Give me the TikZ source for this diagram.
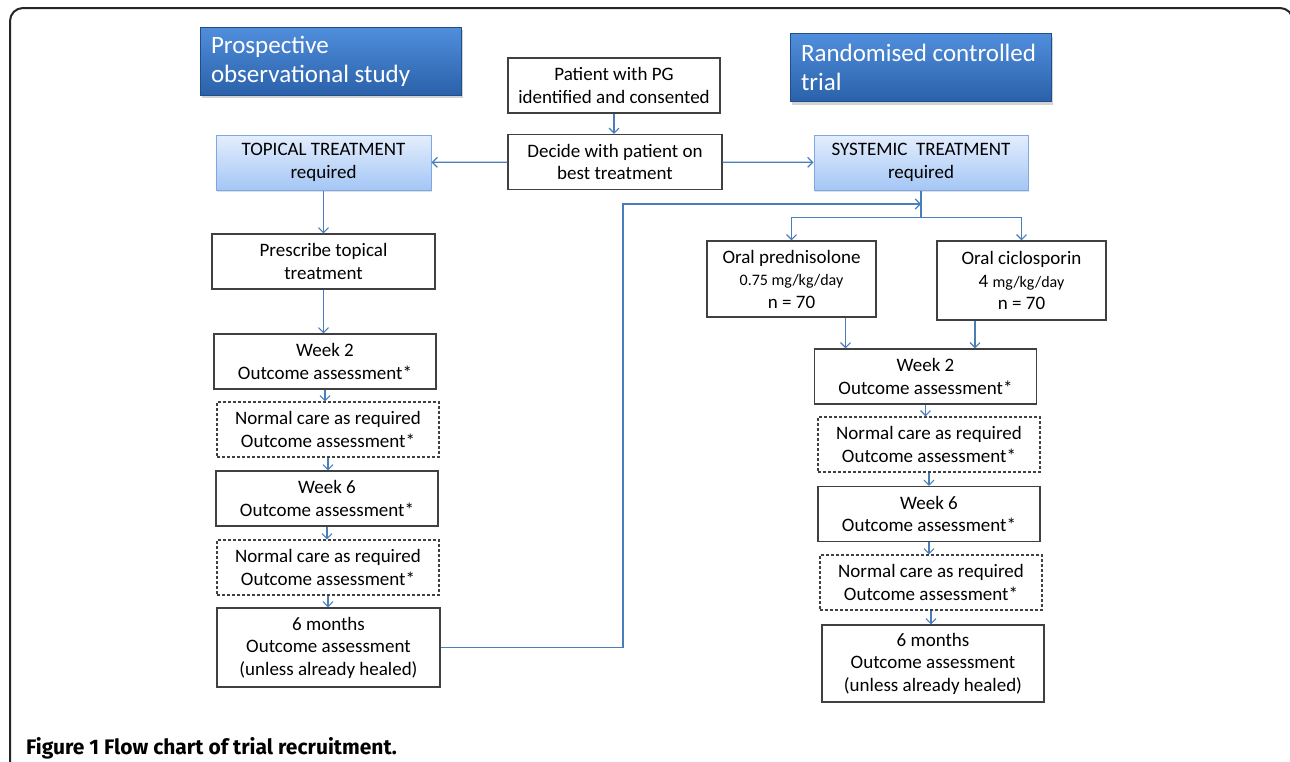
\documentclass[tikz,border=0pt]{standalone}
\usepackage{fontspec}
\setmainfont{Carlito}
\newfontfamily\capfont{Fira Sans}
\usetikzlibrary{arrows.meta,shadows}

\definecolor{linkblue}{RGB}{74,126,187}
\definecolor{boxgray}{RGB}{64,64,64}
\definecolor{headtop}{RGB}{80,142,220}
\definecolor{headbot}{RGB}{42,97,170}
\definecolor{reqtop}{RGB}{228,238,253}
\definecolor{reqbot}{RGB}{164,198,245}
\definecolor{reqedge}{RGB}{128,168,224}

\begin{document}
\begin{tikzpicture}[x=1pt, y=-1pt,
    every node/.style={font=\fontsize{19}{22.5}\selectfont, align=center, inner sep=0pt},
    stage/.style={draw=boxgray, line width=1.1pt, minimum width=222pt, minimum height=55pt},
    maybe/.style={stage, dash pattern=on 3pt off 2pt},
    needed/.style={draw=reqedge, line width=1pt, top color=reqtop, bottom color=reqbot,
      minimum height=55pt,
      drop shadow={shadow xshift=1pt, shadow yshift=-2pt, opacity=0.25}},
    heading/.style={draw=headbot!80!black, line width=0.6pt, top color=headtop, bottom color=headbot,
      text=white, font=\fontsize{25}{29}\selectfont, align=flush left,
      inner xsep=11pt, text width=239pt, minimum height=68pt,
      drop shadow={shadow xshift=1.5pt, shadow yshift=-3pt, opacity=0.35}},
    link/.style={draw=linkblue, line width=1.2pt, -{Straight Barb[length=5pt,width=10pt]}},
    frame/.style={draw=black!85, line width=2pt, rounded corners=13pt}]

  % page size of the reference
  \useasboundingbox (0,0) rectangle (1290,761);

  % --- outer frame (open at the bottom) ---
  \draw[frame] (10,770) -- (10,8) -- (1293,8) -- (1293,770);

  % === Study headings ===
  \node[heading] (obs) at (330.5,61) {Prospective\\observational study};
  \node[heading] (rct) at (920.5,67.5) {Randomised controlled\\trial};

  % === Entry and choice of treatment ===
  \node[stage, minimum width=212pt] (patient) at (614,85.5) {Patient with PG\\identified and consented};
  \node[stage, minimum width=214pt] (decide) at (615,162) {Decide with patient on\\best treatment};
  \node[needed, minimum width=215pt] (topical) at (323.5,162.5) {TOPICAL TREATMENT\\required};
  \node[needed, minimum width=214pt] (systemic) at (921,162.5) {SYSTEMIC~ TREATMENT\\required};

  % === Topical arm (left column) ===
  \node[stage, minimum width=223pt] (prescribe) at (323.5,261.5) {Prescribe topical\\treatment};
  \node[stage] (weektwoL) at (325,361.5) {Week 2\\Outcome assessment*};
  \node[maybe] (careoneL) at (328,429.5) {Normal care as required\\Outcome assessment*};
  \node[stage] (weeksixL) at (327,498.5) {Week 6\\Outcome assessment*};
  \node[maybe] (caretwoL) at (328,567.5) {Normal care as required\\Outcome assessment*};
  \node[stage, minimum width=223pt, minimum height=79pt] (sixmonthL) at (328.5,647.5)
    {6 months\\Outcome assessment\\(unless already healed)};

  % === Systemic arm (right column) ===
  \node[stage, minimum width=169pt, minimum height=76pt] (pred) at (791.5,279)
    {Oral prednisolone\\{\fontsize{16}{19}\selectfont 0.75 mg/kg/day}\\n = 70};
  \node[stage, minimum width=169pt, minimum height=79pt] (ciclo) at (1021.5,280.5)
    {Oral ciclosporin\\4 {\fontsize{16}{19}\selectfont mg/kg/day}\\n = 70};
  \node[stage] (weektwoR) at (925.5,376.5) {Week 2\\Outcome assessment*};
  \node[maybe] (careoneR) at (929,444.5) {Normal care as required\\Outcome assessment*};
  \node[stage] (weeksixR) at (929,514) {Week 6\\Outcome assessment*};
  \node[maybe] (caretwoR) at (931,582.5) {Normal care as required\\Outcome assessment*};
  \node[stage, minimum height=77pt] (sixmonthR) at (933,663.5)
    {6 months\\Outcome assessment\\(unless already healed)};

  % === Connectors ===
  \draw[link] (patient.south) -- (patient.south |- decide.north);
  \draw[link] (decide) -- (topical);
  \draw[link] (decide) -- (systemic);

  % straight steps down each column
  \foreach \a/\b in {topical/prescribe, prescribe/weektwoL, weektwoL/careoneL,
      careoneL/weeksixL, weeksixL/caretwoL, caretwoL/sixmonthL,
      weektwoR/careoneR, careoneR/weeksixR, weeksixR/caretwoR, caretwoR/sixmonthR}
    \draw[link] (\a.south) -- (\a.south |- \b.north);

  % randomisation split
  \draw[link, -] (systemic.south) -- ++(0,27) coordinate (split);
  \draw[link] (split) -| (pred.north);
  \draw[link] (split) -| (ciclo.north);

  % both drugs join at week 2
  \coordinate (predout) at ([xshift=54pt]pred.south);
  \coordinate (cicloout) at ([xshift=-46.5pt]ciclo.south);
  \draw[link] (predout) -- (predout |- weektwoR.north);
  \draw[link] (cicloout) -- (cicloout |- weektwoR.north);

  % topical patients may move on to the trial
  \coordinate (bend) at (623,204);
  \draw[link] (sixmonthL.east) -| (bend) -- (bend -| systemic.south);

  % === Caption ===
  \node[anchor=base west, font=\capfont\bfseries\fontsize{21}{24}\selectfont] (caption) at (26,754)
    {Figure 1 Flow chart of trial recruitment.};

\end{tikzpicture}
\end{document}
